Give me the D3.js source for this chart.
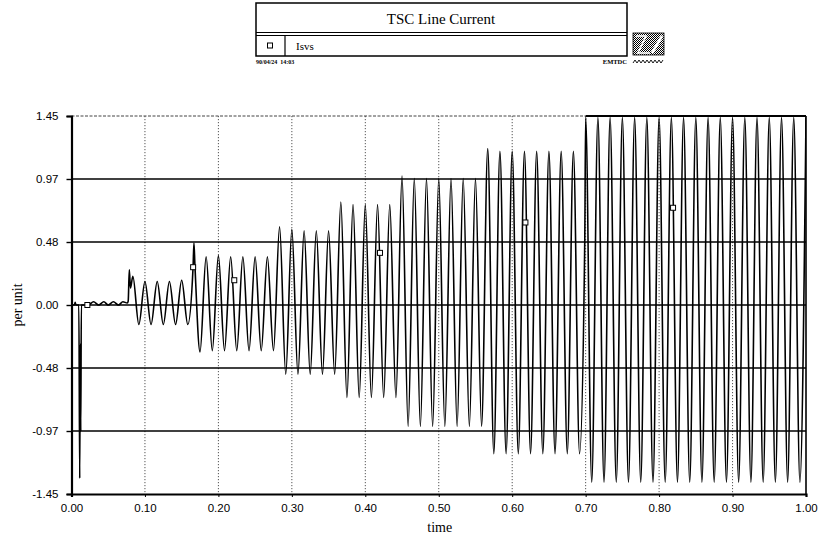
<!DOCTYPE html>
<html>
<head>
<meta charset="utf-8">
<script src="https://cdn.jsdelivr.net/npm/d3@7"></script>
<style>
  html, body { margin: 0; padding: 0; background: #fff; }
  svg { display: block; }
</style>
</head>
<body>
<svg id="chart" width="828" height="542"></svg>
<script>
// TSC line current (Isvs), per unit, over one second of simulation

// waveform turning points: time (s) and current (pu)
const waveTime = [
  0.0000, 0.0040, 0.0050, 0.0060, 0.0100, 0.0112, 0.0119, 0.0126, 0.0134, 0.0160,
  0.0230, 0.0300, 0.0370, 0.0440, 0.0500, 0.0570, 0.0640, 0.0700, 0.0760, 0.0772,
  0.0787, 0.0803, 0.0835,
  0.0917, 0.1000, 0.1083, 0.1167, 0.1250, 0.1333, 0.1417, 0.1500, 0.1583,
  0.1655, 0.1667, 0.1680,
  0.1750, 0.1833, 0.1917, 0.2000, 0.2083, 0.2167, 0.2250, 0.2333, 0.2417, 0.2500,
  0.2583, 0.2667, 0.2750,
  0.2833, 0.2917, 0.3000, 0.3083, 0.3167, 0.3250, 0.3333, 0.3417, 0.3500, 0.3583,
  0.3667, 0.3750, 0.3833, 0.3917, 0.4000, 0.4083, 0.4167, 0.4250, 0.4333, 0.4417,
  0.4500, 0.4583, 0.4667, 0.4750, 0.4833, 0.4917, 0.5000, 0.5083, 0.5167, 0.5250,
  0.5333, 0.5417, 0.5500, 0.5583,
  0.5667, 0.5750, 0.5833, 0.5917, 0.6000, 0.6083, 0.6167, 0.6250, 0.6333, 0.6417,
  0.6500, 0.6583, 0.6667, 0.6750, 0.6833, 0.6917, 0.6988,
  0.7000, 0.7083, 0.7167, 0.7250, 0.7333, 0.7417, 0.7500, 0.7583, 0.7667, 0.7750,
  0.7833, 0.7917, 0.8000, 0.8083, 0.8167, 0.8250, 0.8333, 0.8417, 0.8500, 0.8583,
  0.8667, 0.8750, 0.8833, 0.8917, 0.9000, 0.9083, 0.9167, 0.9250, 0.9333, 0.9417,
  0.9500, 0.9583, 0.9667, 0.9750, 0.9833, 0.9917, 1.0000
];
const waveValue = [
  0.00, 0.00, 0.02, 0.00, 0.00, -1.33, -0.30, -0.97, 0.00, 0.00,
  0.00, 0.025, 0.00, 0.025, 0.00, 0.025, 0.00, 0.025, 0.015, 0.03,
  0.27, 0.13, 0.22,
  -0.15, 0.18, -0.15, 0.18, -0.15, 0.18, -0.15, 0.19, -0.15,
  0.29, 0.475, 0.31,
  -0.36, 0.37, -0.35, 0.38, -0.35, 0.37, -0.35, 0.37, -0.35, 0.37,
  -0.35, 0.37, -0.35,
  0.60, -0.53, 0.58, -0.53, 0.57, -0.53, 0.57, -0.53, 0.57, -0.53,
  0.79, -0.71, 0.77, -0.71, 0.77, -0.71, 0.77, -0.71, 0.77, -0.71,
  0.99, -0.93, 0.97, -0.93, 0.97, -0.93, 0.97, -0.93, 0.97, -0.93,
  0.97, -0.93, 0.97, -0.93,
  1.20, -1.14, 1.18, -1.14, 1.18, -1.14, 1.18, -1.14, 1.18, -1.14,
  1.18, -1.14, 1.18, -1.14, 1.18, -1.14, 0.50,
  1.44, -1.36, 1.44, -1.36, 1.44, -1.36, 1.44, -1.36, 1.44, -1.36,
  1.44, -1.36, 1.44, -1.36, 1.44, -1.36, 1.44, -1.36, 1.44, -1.36,
  1.44, -1.36, 1.44, -1.36, 1.44, -1.36, 1.44, -1.36, 1.44, -1.36,
  1.44, -1.36, 1.44, -1.36, 1.44, -1.36, 1.44
];

// series symbols placed along the trace
const markerTime  = [0.0216, 0.1656, 0.2216, 0.4200, 0.6180, 0.8190];
const markerValue = [0.00, 0.29, 0.19, 0.40, 0.633, 0.746];

// axis ticks
const xTickValues = [0, 0.1, 0.2, 0.3, 0.4, 0.5, 0.6, 0.7, 0.8, 0.9, 1.0];
const xTickLabels = ["0.00", "0.10", "0.20", "0.30", "0.40", "0.50", "0.60", "0.70", "0.80", "0.90", "1.00"];
const yTickValues = [-1.45, -0.9667, -0.4833, 0, 0.4833, 0.9667, 1.45];
const yTickLabels = ["-1.45", "-0.97", "-0.48", "0.00", "0.48", "0.97", "1.45"];

const chartTitle = "TSC Line Current";
const seriesName = "Isvs";
const stampLeft = "90/04/24  14:03";
const stampRight = "EMTDC";
const xTitle = "time";
const yTitle = "per unit";

const svg = d3.select("#chart");
const plotL = 71.5, plotR = 806, plotT = 116, plotB = 494;

const x = d3.scaleLinear().domain([0, 1]).range([plotL, plotR]);
const y = d3.scaleLinear().domain([-1.45, 1.45]).range([plotB, plotT]);

const sans = "'Liberation Sans', Arial, sans-serif";
const serif = "'Liberation Serif', 'Times New Roman', serif";

svg.append("rect").attr("width", 828).attr("height", 542).attr("fill", "#fff");

// ---- header block ----
const head = svg.append("g");
head.append("rect").attr("x", 256).attr("y", 3).attr("width", 371).attr("height", 53)
  .attr("fill", "none").attr("stroke", "#000").attr("stroke-width", 1.5);
head.append("line").attr("x1", 256).attr("x2", 627).attr("y1", 32.5).attr("y2", 32.5)
  .attr("stroke", "#000").attr("stroke-width", 1);
head.append("line").attr("x1", 256).attr("x2", 627).attr("y1", 35.5).attr("y2", 35.5)
  .attr("stroke", "#000").attr("stroke-width", 1.2);
head.append("text").attr("x", 441).attr("y", 24).attr("text-anchor", "middle")
  .attr("font-family", serif).attr("font-size", 15).text(chartTitle);
head.append("rect").attr("x", 267.5).attr("y", 43).attr("width", 5).attr("height", 5)
  .attr("fill", "#fff").attr("stroke", "#000").attr("stroke-width", 1);
head.append("line").attr("x1", 285).attr("x2", 285).attr("y1", 35.5).attr("y2", 56)
  .attr("stroke", "#000").attr("stroke-width", 1.2);
head.append("text").attr("x", 296).attr("y", 50).attr("font-family", serif)
  .attr("font-size", 11).text(seriesName);
head.append("text").attr("x", 256).attr("y", 64).attr("font-family", serif)
  .attr("font-size", 6).attr("font-weight", "bold").attr("xml:space", "preserve").text(stampLeft);
head.append("text").attr("x", 627).attr("y", 64).attr("text-anchor", "end").attr("font-family", serif)
  .attr("font-size", 6.5).attr("font-weight", "bold").text(stampRight);

// small dithered logo tile
const defs = svg.append("defs");
const pat = defs.append("pattern").attr("id", "dither").attr("width", 2).attr("height", 2)
  .attr("patternUnits", "userSpaceOnUse");
pat.append("rect").attr("width", 2).attr("height", 2).attr("fill", "#fff");
pat.append("rect").attr("width", 1).attr("height", 1).attr("fill", "#000");
pat.append("rect").attr("x", 1).attr("y", 1).attr("width", 1).attr("height", 1).attr("fill", "#000");
head.append("rect").attr("x", 633).attr("y", 33).attr("width", 31).attr("height", 22)
  .attr("fill", "url(#dither)").attr("stroke", "#000").attr("stroke-width", 0.8);
head.append("path").attr("d", "M652,53 L662,36").attr("stroke", "#fff").attr("stroke-width", 2.5);
head.append("path").attr("d", "M636,36 L646,36 L638,53 L650,53").attr("fill", "none")
  .attr("stroke", "#fff").attr("stroke-width", 1.6);
const zig = d3.range(0, 16).map(i => [633 + i * 2, i % 2 ? 60 : 63]);
head.append("path").attr("d", d3.line()(zig)).attr("fill", "none")
  .attr("stroke", "#000").attr("stroke-width", 0.9);

// ---- plot frame and grid ----
const grid = svg.append("g");
// vertical dotted grid
grid.selectAll(".vg").data(xTickValues.filter(v => v > 0 && v < 1)).enter().append("line")
  .attr("x1", d => x(d)).attr("x2", d => x(d)).attr("y1", plotT).attr("y2", plotB)
  .attr("stroke", "#555").attr("stroke-width", 1).attr("stroke-dasharray", "1.2,1.8");
// horizontal solid grid
grid.selectAll(".hg").data(yTickValues.filter(v => v > -1.45 && v < 1.45)).enter().append("line")
  .attr("x1", plotL).attr("x2", plotR).attr("y1", d => y(d)).attr("y2", d => y(d))
  .attr("stroke", "#000").attr("stroke-width", 1.6);
// top edge: light on the left, solid where the trace saturates
grid.append("line").attr("x1", plotL).attr("x2", x(0.7)).attr("y1", plotT).attr("y2", plotT)
  .attr("stroke", "#444").attr("stroke-width", 1).attr("stroke-dasharray", "3,1.5");
grid.append("line").attr("x1", x(0.7)).attr("x2", plotR).attr("y1", plotT).attr("y2", plotT)
  .attr("stroke", "#000").attr("stroke-width", 2);
// right edge
grid.append("line").attr("x1", plotR).attr("x2", plotR).attr("y1", plotT).attr("y2", plotB)
  .attr("stroke", "#000").attr("stroke-width", 1.6);

// ---- waveform ----
const clip = defs.append("clipPath").attr("id", "plotClip");
clip.append("rect").attr("x", plotL).attr("y", plotT - 1).attr("width", plotR - plotL).attr("height", plotB - plotT + 2);

const wave = waveTime.map((t, i) => ({ t, v: waveValue[i] }));
const line = d3.line().x(d => x(d.t)).y(d => y(d.v)).curve(d3.curveMonotoneX);
svg.append("path").datum(wave).attr("clip-path", "url(#plotClip)")
  .attr("d", line).attr("fill", "none").attr("stroke", "#000")
  .attr("stroke-width", 1.6).attr("stroke-linejoin", "round");

// series symbols
svg.selectAll(".mk").data(markerTime.map((t, i) => ({ t, v: markerValue[i] }))).enter()
  .append("rect")
  .attr("x", d => x(d.t) - 2.5).attr("y", d => y(d.v) - 2.5)
  .attr("width", 5).attr("height", 5)
  .attr("fill", "#fff").attr("stroke", "#000").attr("stroke-width", 1);

// ---- axes ----
const xAxis = d3.axisBottom(x).tickValues(xTickValues)
  .tickFormat((d, i) => xTickLabels[i]).tickSize(3).tickPadding(7);
const gx = svg.append("g").attr("transform", `translate(0,${plotB})`).call(xAxis);
gx.select(".domain").attr("stroke", "#000").attr("stroke-width", 2.2);
gx.selectAll(".tick line").attr("stroke", "#000");
gx.selectAll("text").attr("font-family", sans).attr("font-size", 11.5).attr("fill", "#000");

const yAxis = d3.axisLeft(y).tickValues(yTickValues)
  .tickFormat((d, i) => yTickLabels[i]).tickSize(5).tickPadding(8);
const gy = svg.append("g").attr("transform", `translate(${plotL},0)`).call(yAxis);
gy.select(".domain").attr("stroke", "#000").attr("stroke-width", 2.2);
gy.selectAll(".tick line").attr("stroke", "#000").attr("stroke-width", 1.4);
gy.selectAll("text").attr("font-family", sans).attr("font-size", 11.5).attr("fill", "#000");

// axis titles
svg.append("text").attr("x", (plotL + plotR) / 2 + 1).attr("y", 532).attr("text-anchor", "middle")
  .attr("font-family", serif).attr("font-size", 14).text(xTitle);
svg.append("text").attr("transform", `translate(22,${y(0)}) rotate(-90)`).attr("text-anchor", "middle")
  .attr("font-family", serif).attr("font-size", 14).text(yTitle);
</script>
</body>
</html>
